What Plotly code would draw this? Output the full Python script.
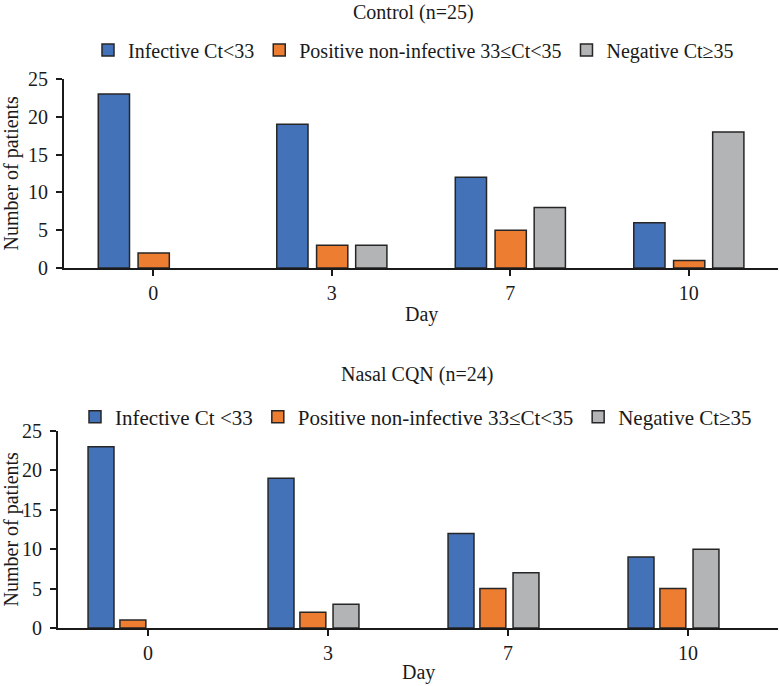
import plotly.graph_objects as go

# data
days = ["0", "3", "7", "10"]
series_names_control = ["Infective Ct<33", "Positive non-infective 33≤Ct<35", "Negative Ct≥35"]
series_names_cqn = ["Infective Ct <33", "Positive non-infective 33≤Ct<35", "Negative Ct≥35"]
control_infective = [23, 19, 12, 6]
control_positive = [2, 3, 5, 1]
control_negative = [0, 3, 8, 18]
cqn_infective = [23, 19, 12, 9]
cqn_positive = [1, 2, 5, 5]
cqn_negative = [0, 3, 7, 10]

# styling
W, H = 779, 686
FONT = "Liberation Serif"
INK = "#1a1a1a"
COLORS = ["#4472B8", "#ED7D31", "#B3B4B6"]
TOP_WIDTH, TOP_OFFSETS = 0.175, [-0.308, -0.085, 0.134]
BOT_WIDTH, BOT_OFFSETS = 0.144, [-0.333, -0.156, 0.028]


def no_zero(vals):
    # the reference draws nothing for a count of 0
    return [v if v else None for v in vals]


fig = go.Figure()

top = [control_infective, control_positive, control_negative]
bottom = [cqn_infective, cqn_positive, cqn_negative]

for i, vals in enumerate(top):
    fig.add_trace(go.Bar(x=days, y=no_zero(vals), name=series_names_control[i],
                         width=TOP_WIDTH, offset=TOP_OFFSETS[i],
                         marker=dict(color=COLORS[i], line=dict(color="#262626", width=1.5)),
                         xaxis="x", yaxis="y", legend="legend"))

for i, vals in enumerate(bottom):
    fig.add_trace(go.Bar(x=days, y=no_zero(vals), name=series_names_cqn[i],
                         width=BOT_WIDTH, offset=BOT_OFFSETS[i],
                         marker=dict(color=COLORS[i], line=dict(color="#262626", width=1.5)),
                         xaxis="x2", yaxis="y2", legend="legend2"))

axis_common = dict(showline=True, linecolor=INK, linewidth=2, ticks="outside",
                   ticklen=6, tickwidth=2, tickcolor=INK, showgrid=False,
                   zeroline=False, automargin=False,
                   tickfont=dict(family=FONT, size=20, color=INK))

fig.update_layout(
    width=W, height=H,
    margin=dict(l=0, r=0, t=0, b=0),
    paper_bgcolor="white", plot_bgcolor="white",
    barmode="overlay",
    font=dict(family=FONT, size=20, color=INK),
    xaxis=dict(domain=[64 / W, 778 / W], anchor="y", type="category",
               ticklabelstandoff=0, **axis_common),
    yaxis=dict(domain=[1 - 268 / H, 1 - 79 / H], anchor="x", range=[0, 25],
               dtick=5, ticklabelstandoff=4, **axis_common),
    xaxis2=dict(domain=[58 / W, 778 / W], anchor="y2", type="category",
                ticklabelstandoff=0, **axis_common),
    yaxis2=dict(domain=[1 - 628 / H, 1 - 431 / H], anchor="x2", range=[0, 25],
                dtick=5, ticklabelstandoff=4, **axis_common),
    legend=dict(orientation="h", x=88 / W, xanchor="left", y=1 - 50 / H,
                yanchor="middle", font=dict(family=FONT, size=20, color=INK),
                bgcolor="rgba(0,0,0,0)"),
    legend2=dict(orientation="h", x=75 / W, xanchor="left", y=1 - 417 / H,
                 yanchor="middle", font=dict(family=FONT, size=21, color=INK),
                 bgcolor="rgba(0,0,0,0)"),
)

# titles
fig.add_annotation(text="Control (n=25)", xref="paper", yref="paper",
                   x=413 / W, y=1 - 13 / H, yanchor="middle", showarrow=False,
                   font=dict(family=FONT, size=20, color=INK))
fig.add_annotation(text="Nasal CQN (n=24)", xref="paper", yref="paper",
                   x=417 / W, y=1 - 374 / H, yanchor="middle", showarrow=False,
                   font=dict(family=FONT, size=20, color=INK))

# axis titles
for xr, yr, shift in [("x", "y", -46), ("x2", "y2", -44)]:
    fig.add_annotation(text="Day", xref=xr + " domain", yref=yr + " domain",
                       x=0.5, y=0, yshift=shift, yanchor="middle", showarrow=False,
                       font=dict(family=FONT, size=20, color=INK))
    fig.add_annotation(text="Number of patients", xref="paper", yref=yr + " domain",
                       x=11 / W, y=0.5, xanchor="center", textangle=-90, showarrow=False,
                       font=dict(family=FONT, size=20, color=INK))

# drop the browser's default 8px page margin so the figure sits at 0,0
fig.write_html("out.html", config={"displayModeBar": False},
               post_script="document.body.style.margin='0';")
